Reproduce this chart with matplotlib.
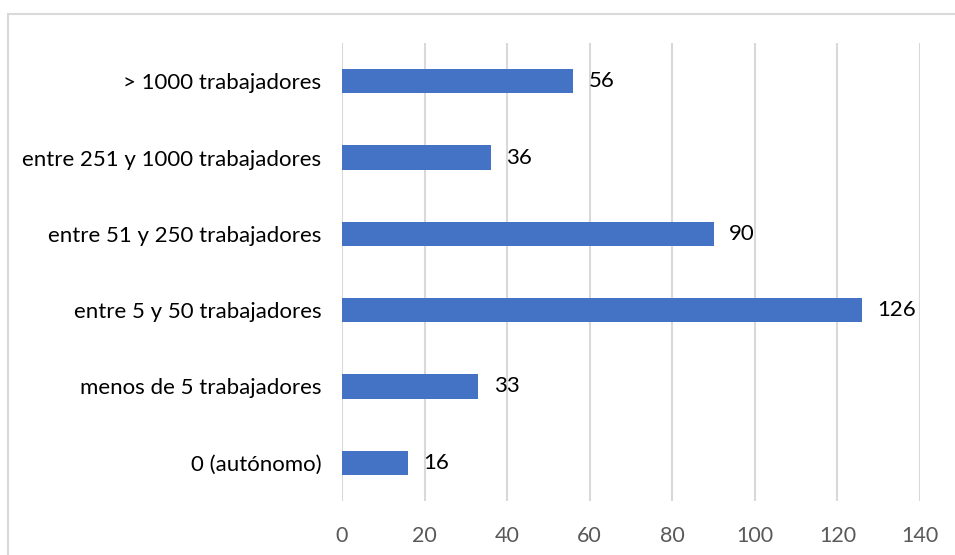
import matplotlib.pyplot as plt
from matplotlib.patches import Rectangle

categorias = ["0 (autónomo)", "menos de 5 trabajadores", "entre 5 y 50 trabajadores",
              "entre 51 y 250 trabajadores", "entre 251 y 1000 trabajadores",
              "> 1000 trabajadores"]
valores = [16, 33, 126, 90, 36, 56]
ticks_x = [0, 20, 40, 60, 80, 100, 120, 140]

plt.rcParams['font.family'] = ['Lato', 'DejaVu Sans']

fig = plt.figure(figsize=(9.55, 5.55), dpi=100)
ax = fig.add_axes([342 / 955, 1 - 501 / 555, 578 / 955, 458 / 555])

barras = ax.barh(range(len(categorias)), valores, height=0.315, color='#4472C4', zorder=3)
ax.bar_label(barras, labels=[str(v) for v in valores], padding=11, fontsize=16, color='#000000')

ax.set_xlim(0, 140)
ax.set_ylim(-0.5, len(categorias) - 0.5)
ax.set_xticks(ticks_x)
ax.set_yticks(range(len(categorias)))
ax.set_yticklabels(categorias, fontsize=16, color='#000000')
ax.tick_params(axis='x', length=0, pad=18, labelsize=15.5, labelcolor='#595959')
ax.tick_params(axis='y', length=0, pad=15)
ax.grid(axis='x', color='#d9d9d9', linewidth=1.5, zorder=0)
for s in ax.spines.values():
    s.set_visible(False)

# marco del gráfico
fig.patches.append(Rectangle((8 / 955, -0.1), 1.1, 1 - 14 / 555 + 0.1,
                             transform=fig.transFigure, fill=False,
                             edgecolor='#d9d9d9', linewidth=1.5))

plt.savefig('out.png', dpi=100)
plt.close()
